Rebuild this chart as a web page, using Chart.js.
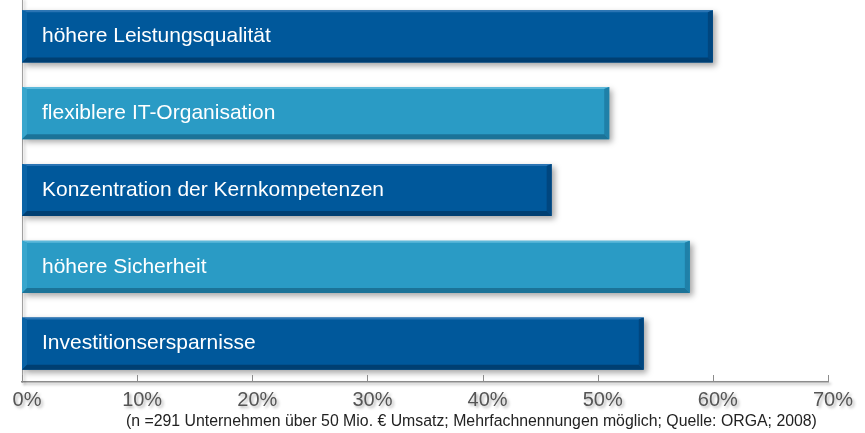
<!DOCTYPE html>
<html>
<head>
<meta charset="utf-8">
<script src="https://cdn.jsdelivr.net/npm/chart.js@4.4.0/dist/chart.umd.min.js"></script>
<style>
  html, body { margin: 0; padding: 0; background: #ffffff; overflow: hidden; }
  #wrap { position: absolute; left: 0; top: -2px; width: 865px; height: 435px; }
  #note {
    position: absolute; left: 126px; top: 412px;
    font: 15.85px "Liberation Sans", Arial, sans-serif; color: #222;
    white-space: nowrap;
  }
</style>
</head>
<body>
<div id="wrap"><canvas id="chart"></canvas></div>
<div id="note">(n =291 Unternehmen über 50 Mio. € Umsatz; Mehrfachnennungen möglich; Quelle: ORGA; 2008)</div>
<script>
// data
const categories = [
    "höhere Leistungsqualität",
    "flexiblere IT-Organisation",
    "Konzentration der Kernkompetenzen",
    "höhere Sicherheit",
    "Investitionsersparnisse"
];
const values = [60, 51, 46, 58, 54];   // percent
const tick_values = [0, 10, 20, 30, 40, 50, 60, 70];

const FONT = '"Liberation Sans", Arial, sans-serif';

// dark / light alternation of the bars
const fills  = ["#00589b", "#2a9bc5", "#00589b", "#2a9bc5", "#00589b"];
const bevels = [
    {top: "#2a74b4", left: "#0a63a6", right: "#00467f", bottom: "#003f72"},
    {top: "#5cb8da", left: "#38a6cd", right: "#1f80a8", bottom: "#1b7398"},
    {top: "#2a74b4", left: "#0a63a6", right: "#00467f", bottom: "#003f72"},
    {top: "#5cb8da", left: "#38a6cd", right: "#1f80a8", bottom: "#1b7398"},
    {top: "#2a74b4", left: "#0a63a6", right: "#00467f", bottom: "#003f72"}
];

const shadows = {
    id: 'shadows',
    beforeDraw(chart) {
        // soft shadow under the axis labels
        const ctx = chart.ctx;
        ctx.save();
        ctx.shadowColor = 'rgba(0,0,0,0.3)';
        ctx.shadowBlur = 3;
        ctx.shadowOffsetX = 2;
        ctx.shadowOffsetY = 2;
    },
    beforeDatasetsDraw(chart) {
        const ctx = chart.ctx;
        ctx.restore();
        ctx.save();
        ctx.shadowColor = 'rgba(0,0,0,0.35)';
        ctx.shadowBlur = 6;
        ctx.shadowOffsetX = 3;
        ctx.shadowOffsetY = 3;
    },
    afterDatasetsDraw(chart) {
        const ctx = chart.ctx;
        ctx.restore();
        // bevel edges + labels inside the bars
        const meta = chart.getDatasetMeta(0);
        const b = 5;
        meta.data.forEach((bar, i) => {
            const L = bar.base, R = bar.x;
            const T = bar.y - bar.height / 2, B = bar.y + bar.height / 2;
            const c = bevels[i];
            const poly = (pts, col) => {
                ctx.beginPath();
                ctx.moveTo(pts[0][0], pts[0][1]);
                for (let k = 1; k < pts.length; k++) ctx.lineTo(pts[k][0], pts[k][1]);
                ctx.closePath();
                ctx.fillStyle = col;
                ctx.fill();
            };
            poly([[L, T], [R, T], [R - b, T + 2], [L + b, T + 2]], c.top);
            poly([[L, T], [L + b, T + 2], [L + b, B - b], [L, B]], c.left);
            poly([[R, T], [R, B], [R - b, B - b], [R - b, T + 2]], c.right);
            poly([[L, B], [L + b, B - b], [R - b, B - b], [R, B]], c.bottom);

            ctx.save();
            ctx.fillStyle = '#ffffff';
            ctx.font = '21px ' + FONT;
            ctx.textBaseline = 'middle';
            ctx.textAlign = 'left';
            ctx.fillText(categories[i], L + 20, bar.y);
            ctx.restore();
        });
    }
};

const innerTicks = {
    id: 'innerTicks',
    afterDraw(chart) {
        const ctx = chart.ctx;
        const x = chart.scales.x;
        const bottom = chart.chartArea.bottom;
        ctx.save();
        ctx.strokeStyle = '#8c8c8c';
        ctx.lineWidth = 1;
        x.ticks.forEach(t => {
            const px = Math.round(x.getPixelForValue(t.value)) + 0.5;
            ctx.beginPath();
            ctx.moveTo(px, bottom);
            ctx.lineTo(px, bottom - 7);
            ctx.stroke();
        });
        ctx.restore();
    }
};

new Chart(document.getElementById('chart').getContext('2d'), {
    type: 'bar',
    data: {
        labels: categories,
        datasets: [{
            data: values,
            backgroundColor: fills,
            borderWidth: 0,
            categoryPercentage: 1,
            barPercentage: 0.68
        }]
    },
    options: {
        indexAxis: 'y',
        responsive: true,
        maintainAspectRatio: false,
        animation: false,
        layout: { padding: { top: 0, right: 37, bottom: 0, left: 0 } },
        plugins: {
            legend: { display: false },
            tooltip: { enabled: false }
        },
        scales: {
            x: {
                type: 'linear',
                min: 0,
                max: 70,
                afterBuildTicks: (s) => { s.ticks = tick_values.map(v => ({value: v})); },
                afterFit: (s) => { s.height = 51; },
                grid: { display: false },
                border: { display: true, color: '#8c8c8c', width: 1.5 },
                ticks: {
                    padding: -2,
                    labelOffset: 5,
                    color: '#555555',
                    font: { family: FONT, size: 20 },
                    callback: (v) => v + '%'
                }
            },
            y: {
                afterFit: (s) => { s.width = 22; },
                grid: { display: false },
                border: { display: true, color: '#a0a0a0', width: 1 },
                ticks: { display: false }
            }
        }
    },
    plugins: [shadows, innerTicks]
});
</script>
</body>
</html>
